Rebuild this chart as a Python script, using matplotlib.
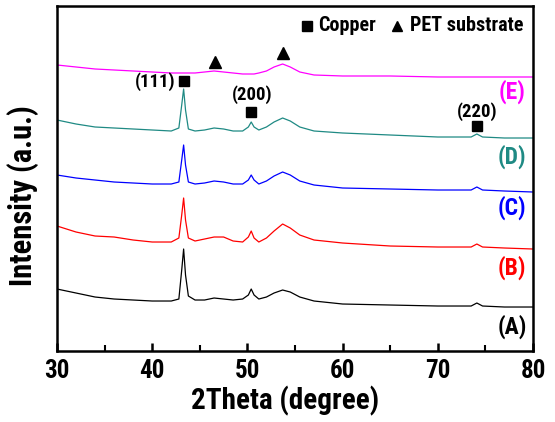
import matplotlib
matplotlib.use("Agg")
import matplotlib.pyplot as plt

plt.rcParams['font.family'] = ['Roboto Condensed', 'Liberation Sans', 'DejaVu Sans']
plt.rcParams['font.weight'] = 'bold'
plt.rcParams['axes.labelweight'] = 'bold'

# 2theta sample positions (degree)
two_theta = [30, 32, 34, 36, 38, 40, 42, 42.8, 43.1, 43.3, 43.5, 43.8, 44.5, 45.5,
             46.5, 47.5, 48.5, 49.5, 50.1, 50.4, 50.7, 51.2, 52, 52.8, 53.7, 54.5,
             55.5, 57, 60, 65, 70, 73.5, 74.1, 74.7, 77, 80]

# intensities (a.u.), stacked with offsets as in the figure
int_A = [62, 58, 54, 52, 51, 50, 50, 52, 81, 102, 76, 55, 51, 51, 53, 52, 51, 52,
         56, 62, 56, 52, 54, 58, 61, 59, 54, 50, 47, 46, 45, 45, 48, 45, 44, 44]
int_B = [125, 119, 115, 114, 111, 109, 109, 113, 136, 153, 131, 113, 110, 112, 114, 114, 110, 109,
         114, 120, 113, 109, 113, 120, 127, 123, 116, 111, 108, 105, 104, 104, 107, 104, 103, 102]
int_C = [176, 173, 171, 169, 168, 167, 167, 169, 191, 206, 186, 169, 167, 168, 170, 169, 167, 167,
         171, 176, 171, 167, 170, 175, 179, 176, 170, 166, 163, 162, 161, 161, 164, 161, 160, 159]
int_D = [231, 227, 224, 223, 222, 221, 220, 223, 246, 262, 241, 222, 220, 221, 223, 222, 220, 220,
         224, 229, 224, 221, 224, 229, 233, 230, 224, 220, 218, 216, 214, 214, 217, 214, 213, 213]
int_E = [286, 284, 282, 281, 280, 279, 278, 278, 278, 278, 278, 278, 278, 279, 280, 279, 278, 277,
         277, 277, 277, 278, 280, 284, 287, 284, 279, 276, 275, 275, 274, 274, 274, 274, 274, 274]

series = [int_A, int_B, int_C, int_D, int_E]
names = ['(A)', '(B)', '(C)', '(D)', '(E)']
colors = ['black', '#ff0000', '#0000ff', '#1f8a84', '#ff00ff']
label_y = [24, 83, 143, 194, 259]

fig = plt.figure(figsize=(5.55, 4.22), dpi=100)
ax = fig.add_axes([0.1027, 0.1682, 0.8577, 0.8176])

for ys, c in zip(series, colors):
    ax.plot(two_theta, ys, color=c, lw=0.9)

for name, c, ly in zip(names, colors, label_y):
    ax.text(77.8, ly, name, color=c, fontsize=17, ha='center', va='center')

# copper peaks
cu_peaks = [(43.3, 270, '(111)', 40.3, 269), (50.4, 239, '(200)', 50.5, 256), (74.1, 225, '(220)', 74.1, 239)]
for px, py, lab, tx, ty in cu_peaks:
    ax.plot(px, py, 's', color='black', ms=7)
    ax.text(tx, ty, lab, fontsize=13.5, ha='center', va='center')

# PET peaks
for px, py in [(46.6, 289), (53.7, 298)]:
    ax.plot(px, py, '^', color='black', ms=8)

# legend drawn as text like the original
ax.plot(56.3, 325, 's', color='black', ms=6.5)
ax.text(57.4, 325, 'Copper', fontsize=14.5, va='center')
ax.plot(65.7, 325, '^', color='black', ms=7)
ax.text(67.1, 325, 'PET substrate', fontsize=14.5, va='center')

ax.set_xlim(30, 80)
ax.set_ylim(0, 345)
ax.set_xticks([30, 40, 50, 60, 70, 80])
ax.set_xticks([35, 45, 55, 65, 75], minor=True)
ax.set_yticks([])
ax.tick_params(axis='x', which='major', direction='in', length=6, width=1.8, labelsize=18, pad=6)
ax.tick_params(axis='x', which='minor', direction='in', length=4, width=1.5)
for s in ax.spines.values():
    s.set_linewidth(1.8)

ax.set_xlabel('2Theta (degree)', fontsize=21)
ax.set_ylabel('Intensity (a.u.)', fontsize=22)
ax.xaxis.set_label_coords(0.48, -0.1)
ax.yaxis.set_label_coords(-0.038, 0.45)

fig.savefig('out.png', dpi=100)
